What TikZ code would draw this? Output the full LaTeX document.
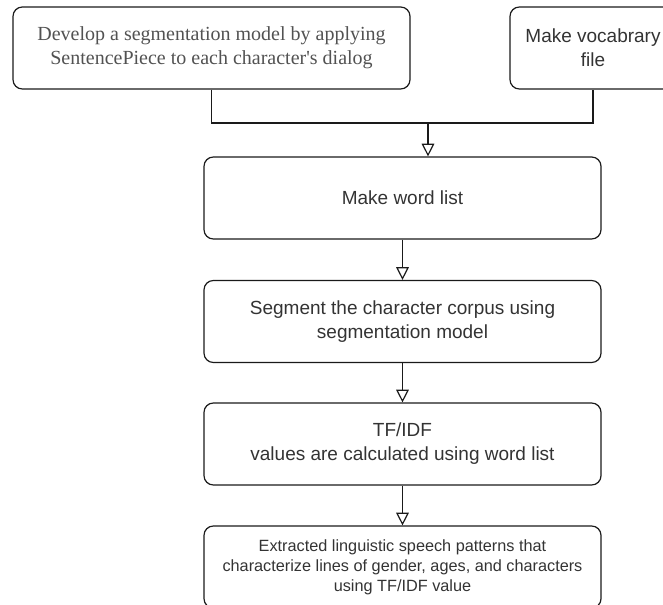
\documentclass[tikz,border=0pt]{standalone}
\usepackage{fontspec}
\setmainfont{Liberation Serif}
\newfontfamily\sansf{Liberation Sans}
\usetikzlibrary{arrows.meta}
\definecolor{txt}{HTML}{333333}
\definecolor{ln}{HTML}{1A1A1A}
\newcommand{\straightquote}{\XeTeXglyph\the\XeTeXcharglyph"27\relax}
\tikzset{
  box/.style={draw=ln, line width=0.9pt, rounded corners=7pt, align=center,
    text=txt, inner sep=0pt, minimum height=61.5pt},
  wide/.style={box, minimum width=297.75pt},
  sansbox/.style={font=\sansf\fontsize{14.25pt}{18pt}\selectfont},
  link/.style={draw=ln, line width=0.8pt},
  flow/.style={draw=ln, line width=0.9pt, -{Triangle[open, fill=white, length=9.5pt, width=9.5pt]}},
}
\begin{document}
\begin{tikzpicture}[x=0.75pt, y=-0.75pt]
\clip (0,0) rectangle (663,605);
\node[wide, text=txt!85!white, font=\fontsize{15pt}{18pt}\selectfont] (dev) at (211.5,48)
  {Develop a segmentation model by applying\\SentencePiece to each character\straightquote s dialog};
\node[box, sansbox, minimum width=124.5pt] (voc) at (593,48)
  {Make vocabrary\\file};
\node[wide, sansbox] (wl) at (402.5,198) {Make word list};
\node[wide, sansbox] (seg) at (402.5,321.5)
  {Segment the character corpus using\\segmentation model};
\node[wide, sansbox] (tf) at (402.5,444)
  {TF/IDF\\values are calculated using word list};
\node[wide, font=\sansf\fontsize{12.2pt}{15pt}\selectfont] (ext) at (402.5,567)
  {Extracted linguistic speech patterns that\\characterize lines of gender, ages, and characters\\using TF/IDF value};
\coordinate (jl) at (211.5,123);
\coordinate (jr) at (593,123);
\coordinate (ja) at (428,123);
\draw[link] (dev.south) -- (jl) -- (jr) -- (voc.south);
\draw[flow, line width=1.5pt, -{Triangle[open, fill=white, length=9.5pt, width=9.5pt, line width=0.9pt]}] (ja) -- (ja |- wl.north);
\draw[flow] (wl.south) -- (seg.north);
\draw[flow] (seg.south) -- (tf.north);
\draw[flow] (tf.south) -- (ext.north);
\end{tikzpicture}
\end{document}
